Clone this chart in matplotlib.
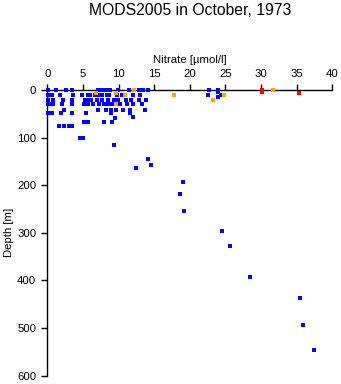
import matplotlib
matplotlib.use("Agg")
import matplotlib.pyplot as plt
import numpy as np

plt.rcParams['font.family'] = ['Liberation Sans', 'DejaVu Sans']

# nitrate [umol/l] and depth [m] per quality flag group
blue_nitrate = [
    0.14, 1.22, 2.62, 3.51, 7.16, 7.54, 7.86, 8.19, 8.8, 9.88, 11.51, 12.87, 13.48, 14.18, 22.7, 24.0,
    24.0,
    0.14, 0.71, 1.78, 3.65, 4.92, 5.76, 5.99, 6.7, 7.3, 7.63, 8.33, 8.66, 9.74, 10.44, 11.98, 13.01, 22.6, 24.4,
    24.0,
    0.14, 0.85, 2.25, 3.51, 5.34, 5.76, 6.13, 7.02, 7.63, 8.57, 9.36, 9.97, 11.05, 11.7, 12.87, 13.86,
    0.14, 0.38, 0.85, 2.02, 3.42, 5.2, 5.76, 6.46, 7.26, 7.96, 8.57, 9.03, 10.2, 11.14, 11.98, 13.25,
    2.34, 7.16, 8.19, 8.89, 9.64, 10.67, 11.61, 13.71,
    0.14, 0.71, 1.88, 3.51, 5.43, 8.89, 11.61,
    12.08, 9.5,
    5.2, 5.76, 8.0, 9.13,
    1.64, 2.34, 3.05, 3.42,
    4.59, 5.0,
    9.4, 12.4, 14.1, 14.5, 19.1, 18.6, 19.2, 24.5, 25.7, 28.4, 35.5, 35.9, 37.5,
]
blue_depth = (
    [0] * 16
    + [5]
    + [11] * 18
    + [15]
    + [20] * 16
    + [30] * 16
    + [41] * 8
    + [49] * 7
    + [56, 59]
    + [67] * 4
    + [75] * 4
    + [100] * 2
    + [116, 164, 145, 158, 194, 219, 253, 295, 327, 393, 436, 493, 547]
)

orange_nitrate = [6.8, 9.6, 10.9, 9.6, 12.2, 17.8, 23.3, 24.8, 31.7]
orange_depth = [7, 7, 10, 30, 0, 11, 21, 11, 0]

red_nitrate = [30.1, 30.1, 35.3]
red_depth = [0, 5, 7]

fig = plt.figure(figsize=(3.41, 3.84), dpi=100)
ax = fig.add_axes([0.1387, 0.0216, 0.8358, 0.7438])

for xs, ys, col in [(blue_nitrate, blue_depth, '#0000ff'),
                    (orange_nitrate, orange_depth, '#ffa500'),
                    (red_nitrate, red_depth, '#ff0000')]:
    ax.plot(xs, ys, 's', color=col, markersize=2.4, markeredgewidth=0,
            clip_on=False, zorder=3)

ax.set_xlim(0, 40)
ax.set_ylim(600, 0)
ax.set_xticks(np.arange(0, 41, 5))
ax.set_yticks(np.arange(0, 601, 100))

ax.xaxis.tick_top()
ax.xaxis.set_label_position('top')
for s in ['right', 'bottom']:
    ax.spines[s].set_visible(False)
for s in ['top', 'left']:
    ax.spines[s].set_linewidth(1.0)
ax.tick_params(axis='both', direction='out', length=4, width=1.0,
               labelsize=8.2, pad=4)

ax.set_xlabel('Nitrate [\u00b5mol/l]', fontsize=8.2, labelpad=4)
ax.set_ylabel('Depth [m]', fontsize=8.2, labelpad=2)

fig.text(0.557, 0.972, 'MODS2005 in October, 1973', ha='center', va='center',
         fontsize=11.3)

fig.savefig('out.png', dpi=100)
